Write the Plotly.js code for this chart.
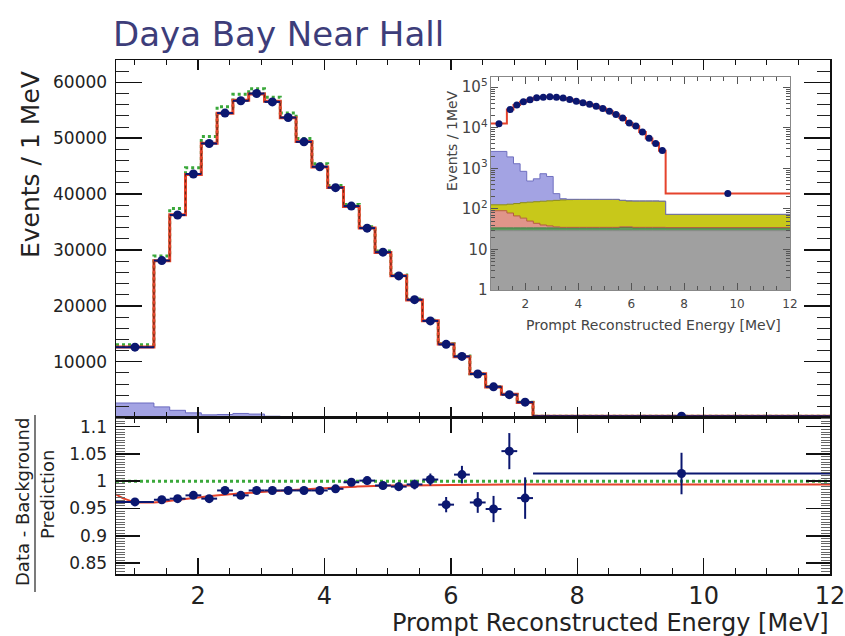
<!DOCTYPE html>
<html><head><meta charset="utf-8">
<script src="https://cdn.plot.ly/plotly-3.0.1.min.js"></script>
<style>body{margin:0;background:#fff}#chart{width:845px;height:636px}</style>
</head><body><div id="chart"></div>
<script>
// ---- data (per MeV) ----
const binEdges = [0.7,1.3,1.55,1.8,2.05,2.3,2.55,2.8,3.05,3.3,3.55,3.8,4.05,4.3,4.55,4.8,5.05,5.3,5.55,5.8,6.05,6.3,6.55,6.8,7.05,7.3,12];
const dataEvents = [12600,28100,36250,43600,49050,54500,56700,58000,56500,53700,49350,44900,41150,37850,33900,29600,25350,21100,17300,13100,10950,7800,5500,4100,2750,240];
const dataErr = [150,330,380,420,440,470,480,480,475,465,445,425,405,390,370,345,320,290,265,230,210,175,150,130,105,10];
const predEvents = [12650,28050,36300,43500,49100,54450,56800,57900,56600,53650,49400,44850,41200,37800,33950,29550,25400,21050,17350,13150,10900,7850,5450,4150,2700,240];
const noOscEvents = [13050,28900,37400,44700,50300,55650,57850,58850,57350,54500,49950,45450,41550,38150,34150,29800,25500,21200,17420,13230,11000,7860,5520,4130,2760,242];
// background components (stacked, per MeV)
const bkgFastN = [29,29,29,29,29,29,29,29,29,29,29,29,29,29,29,29,29,29,29,29,29,29,29,29,29,29];
const bkgAmC = [5,5,5,5,5,5,5,5,5,5,5,5,5,5,5,5,5,5,6,6,5,5,5,5,5,5];
const bkgAlphaN = [56,45,33,25,16,10,6,4,2,1,1,1,1,1,1,1,1,1,1,1,1,1,1,1,1,0.5];
const bkgLiHe = [36,51,68,83,96,106,114,120,126,131,134,135,135,135,135,135,135,135,125,120,120,120,120,120,118,38];
const bkgAccidental = [2480,1780,1160,700,340,400,580,470,75,12,3,2,2,2,2,2,2,2,2,2,2,2,2,2,2,1];
// ratio panel
const ratioVals = [0.962,0.966,0.968,0.974,0.968,0.983,0.974,0.983,0.983,0.983,0.983,0.983,0.986,0.998,1.001,0.992,0.990,0.994,1.003,0.957,1.012,0.961,0.949,1.055,0.969,1.014];
const ratioErr = [0.006,0.005,0.005,0.005,0.005,0.005,0.005,0.005,0.005,0.005,0.005,0.005,0.006,0.006,0.007,0.007,0.008,0.009,0.011,0.014,0.016,0.019,0.024,0.033,0.038,0.038];
const fitX = [0.7,0.85,1.0,1.2,1.4,1.7,2.0,2.5,3.0,3.5,4.0,4.5,5.0,6.0,7.0,8.0,10.0,12.0];
const fitRatio = [0.976,0.967,0.962,0.961,0.962,0.966,0.970,0.976,0.980,0.984,0.987,0.990,0.992,0.993,0.994,0.994,0.994,0.994];
const noOscLineX = [0.7,12];
const noOscLineY = [1,1];

// ---- helpers ----
const centers = binEdges.slice(0,-1).map((e,i)=>(e+binEdges[i+1])/2);
const halfW = binEdges.slice(0,-1).map((e,i)=>(binEdges[i+1]-e)/2);
const stepY = v => v.concat([v[v.length-1]]);
function cum(...arrs){return arrs[0].map((_,i)=>arrs.reduce((s,a)=>s+a[i],0));}
const totalBkg = cum(bkgFastN,bkgAmC,bkgAlphaN,bkgLiHe,bkgAccidental);

const navy = '#0b1770';
const red = '#e5432c';
const traces = [];
// main panel
traces.push({x:binEdges,y:stepY(totalBkg),xaxis:'x',yaxis:'y',type:'scatter',mode:'lines',line:{shape:'hv',color:'#6a6ac0',width:1},fill:'tozeroy',fillcolor:'#a3a3e3',hoverinfo:'skip'});
traces.push({x:binEdges,y:stepY(noOscEvents),xaxis:'x',yaxis:'y',type:'scatter',mode:'lines',line:{shape:'hv',color:'#3aa83a',width:3,dash:'dot'}});
traces.push({x:binEdges,y:stepY(predEvents),xaxis:'x',yaxis:'y',type:'scatter',mode:'lines',line:{shape:'hv',color:red,width:3}});
traces.push({x:binEdges,y:stepY(predEvents),xaxis:'x',yaxis:'y',type:'scatter',mode:'lines',line:{shape:'hv',color:'#6a2a12',width:1.2,dash:'dot'}});
traces.push({x:centers,y:dataEvents,xaxis:'x',yaxis:'y',type:'scatter',mode:'markers',marker:{color:navy,size:9},
  error_x:{type:'data',array:halfW,color:navy,thickness:2,width:0},error_y:{type:'data',array:dataErr,color:navy,thickness:2,width:0}});
// ratio panel
traces.push({x:noOscLineX,y:noOscLineY,xaxis:'x2',yaxis:'y2',type:'scatter',mode:'lines',line:{color:'#3aa83a',width:3,dash:'dot'}});
traces.push({x:fitX,y:fitRatio,xaxis:'x2',yaxis:'y2',type:'scatter',mode:'lines',line:{color:red,width:2,shape:'spline'}});
traces.push({x:centers,y:ratioVals,xaxis:'x2',yaxis:'y2',type:'scatter',mode:'markers',marker:{color:navy,size:9},
  error_x:{type:'data',array:halfW,color:navy,thickness:2,width:0},error_y:{type:'data',array:ratioErr,color:navy,thickness:2,width:0}});
// inset: stacked backgrounds
const base = binEdges.map(()=>1);
traces.push({x:binEdges,y:base,xaxis:'x3',yaxis:'y3',type:'scatter',mode:'lines',line:{width:0,shape:'hv'},hoverinfo:'skip'});
const layers = [
  [bkgFastN,'#a0a0a0','#888888'],
  [bkgAmC,'#5f9a5f','#3f7a3f'],
  [bkgAlphaN,'#e0958a','#b55a40'],
  [bkgLiHe,'#c8c81a','#8a8a10'],
  [bkgAccidental,'#a3a3e3','#7070c0']
];
let acc = binEdges.slice(0,-1).map(()=>0);
layers.forEach(([arr,fc,lc])=>{
  acc = acc.map((v,i)=>v+arr[i]);
  traces.push({x:binEdges,y:stepY(acc),xaxis:'x3',yaxis:'y3',type:'scatter',mode:'lines',line:{shape:'hv',color:lc,width:1},fill:'tonexty',fillcolor:fc,hoverinfo:'skip'});
});
traces.push({x:binEdges,y:stepY(predEvents),xaxis:'x3',yaxis:'y3',type:'scatter',mode:'lines',line:{shape:'hv',color:red,width:2}});
traces.push({x:centers,y:dataEvents,xaxis:'x3',yaxis:'y3',type:'scatter',mode:'markers',marker:{color:navy,size:7}});

const ax = {showgrid:false,zeroline:false,showline:true,linecolor:'#111',linewidth:1.5,mirror:'allticks',ticks:'inside',tickcolor:'#111',ticklabeloverflow:'allow',tickmode:'linear'};
const py = p => (574-p)/514; // pixel y -> paper
const px = p => (p-116)/714;
const layout = {
  width:845,height:636,margin:{l:116,r:15,t:60,b:62},
  paper_bgcolor:'#fff',plot_bgcolor:'#fff',showlegend:false,
  font:{family:'DejaVu Sans',color:'#222'},
  xaxis:Object.assign({},ax,{domain:[0,1],anchor:'y',range:[0.7,12],showticklabels:false,tick0:0,dtick:2,ticklen:10,tickwidth:1.5,
    minor:{ticks:'inside',ticklen:5,dtick:0.5,tick0:0,tickcolor:'#111',tickwidth:1}}),
  yaxis:Object.assign({},ax,{domain:[py(417),1],anchor:'x',range:[100,64000],tick0:0,dtick:10000,tickformat:'d',ticklen:26,tickwidth:1.5,
    tickfont:{size:17,color:'#222'},ticklabelstandoff:4,minor:{ticks:'inside',ticklen:13,dtick:2000,tick0:0,tickcolor:'#222',tickwidth:1}}),
  xaxis2:Object.assign({},ax,{domain:[0,1],anchor:'y2',range:[0.7,12],tick0:0,dtick:2,ticklen:16,tickwidth:1.5,
    tickfont:{size:24,color:'#222'},minor:{ticks:'inside',ticklen:6,dtick:0.5,tick0:0,tickcolor:'#111',tickwidth:1}}),
  yaxis2:Object.assign({},ax,{domain:[0,py(417)],anchor:'x2',range:[0.830,1.1175],tick0:0,dtick:0.05,ticklen:24,tickwidth:1.5,
    tickfont:{size:17,color:'#222'},ticklabelstandoff:4,minor:{ticks:'inside',ticklen:9,dtick:0.005,tick0:0,tickcolor:'#666',tickwidth:1}}),
  xaxis3:{domain:[px(491),px(790)],anchor:'y3',range:[0.7,12],showgrid:false,zeroline:false,showline:true,linecolor:'#888',linewidth:1,mirror:'allticks',
    ticks:'inside',tickmode:'linear',tick0:0,dtick:2,ticklen:7,tickcolor:'#555',tickfont:{size:12,color:'#444'},ticklabelstandoff:3,ticklabeloverflow:'allow',
    minor:{ticks:'inside',ticklen:4,dtick:0.5,tick0:0,tickcolor:'#555'}},
  yaxis3:{domain:[py(290),py(77)],anchor:'x3',type:'log',range:[0,5.25],showgrid:false,zeroline:false,showline:true,linecolor:'#888',linewidth:1,mirror:'allticks',
    ticks:'inside',tickmode:'linear',tick0:0,dtick:1,exponentformat:'power',ticklen:7,tickcolor:'#555',tickfont:{size:12,color:'#444'},
    minor:{ticks:'inside',ticklen:4,tickcolor:'#555',dtick:'D1'}},
  annotations:[
    {text:'Daya Bay Near Hall',xref:'paper',yref:'paper',x:px(111),y:py(34),xanchor:'left',yanchor:'middle',showarrow:false,font:{size:34,color:'#3d3d7a'}},
    {text:'Events / 1 MeV',xref:'paper',yref:'paper',x:px(30),y:py(165),xanchor:'center',yanchor:'middle',textangle:-90,showarrow:false,font:{size:25,color:'#222'}},
    {text:'Prompt Reconstructed Energy [MeV]',xref:'paper',yref:'paper',x:px(831),y:py(623),xanchor:'right',yanchor:'middle',showarrow:false,font:{size:24,color:'#222'}},
    {text:'Data - Background',xref:'paper',yref:'paper',x:px(22),y:py(502),xanchor:'center',yanchor:'middle',textangle:-90,showarrow:false,font:{size:18,color:'#222'}},
    {text:'Prediction',xref:'paper',yref:'paper',x:px(47),y:py(495),xanchor:'center',yanchor:'middle',textangle:-90,showarrow:false,font:{size:18,color:'#222'}},
    {text:'Prompt Reconstructed Energy [MeV]',xref:'paper',yref:'paper',x:px(653),y:py(325),xanchor:'center',yanchor:'middle',showarrow:false,font:{size:14,color:'#444'}},
    {text:'Events / 1MeV',xref:'paper',yref:'paper',x:px(452),y:py(141),xanchor:'center',yanchor:'middle',textangle:-90,showarrow:false,font:{size:14,color:'#444'}}
  ],
  shapes:[
    {type:'line',xref:'paper',yref:'paper',x0:px(35),x1:px(35),y0:py(415),y1:py(592),line:{color:'#222',width:1.2}}
  ]
};
Plotly.newPlot('chart',traces,layout,{displayModeBar:false,staticPlot:true});
</script></body></html>
